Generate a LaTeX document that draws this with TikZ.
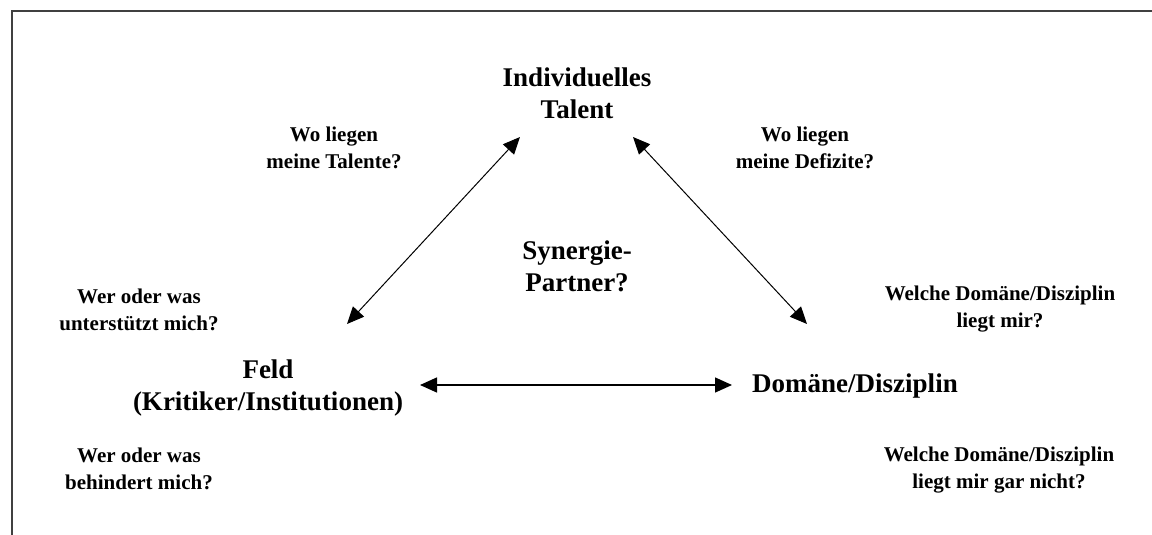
\documentclass[tikz,border=0pt]{standalone}
\usepackage{fontspec}
\setmainfont{Liberation Serif}
\usetikzlibrary{arrows.meta}
\tikzset{
  bigtext/.style={font=\bfseries\fontsize{27}{32}\selectfont, align=center, inner sep=0pt},
  smalltext/.style={font=\bfseries\fontsize{21}{27}\selectfont, align=center, inner sep=0pt},
  link/.style={line width=1pt, {Triangle[length=17pt,width=15pt]}-{Triangle[length=17pt,width=15pt]}},
  hlink/.style={line width=1.4pt, {Triangle[length=17pt,width=15pt]}-{Triangle[length=17pt,width=15pt]}},
  frameline/.style={line width=2pt, draw=black!75}
}
\begin{document}
\begin{tikzpicture}[x=1pt,y=-1pt]
\useasboundingbox (0,0) rectangle (1152,535);
% frame (top and left edges)
\coordinate (fbl) at (12,540);
\coordinate (ftl) at (12,11);
\coordinate (ftr) at (1160,11);
\draw[frameline] (fbl) -- (ftl) -- (ftr);

% main labels
\node[bigtext] (talent) at (577,93) {Individuelles\\Talent};
\node[bigtext] (feld) at (268,388) {Feld\\(Kritiker/Institutionen)};
\node[bigtext] (domaene) at (855,386.5) {Domäne/Disziplin};
\node[bigtext] (synergie) at (577,266) {Synergie-\\Partner?};

% questions
\node[smalltext] (qtalente) at (334,148) {Wo liegen\\meine Talente?};
\node[smalltext] (qdefizite) at (805,148) {Wo liegen\\meine Defizite?};
\node[smalltext] (qunterst) at (139,309.5) {Wer oder was\\unterstützt mich?};
\node[smalltext] (qliegt) at (1000,309.5) {Welche Domäne/Disziplin\\liegt mir?};
\node[smalltext] (qbehind) at (139,468.5) {Wer oder was\\behindert mich?};
\node[smalltext] (qnicht) at (999,470) {Welche Domäne/Disziplin\\liegt mir gar nicht?};

% arrow end points
\coordinate (tl) at (520,137);
\coordinate (tr) at (633,137);
\coordinate (fl) at (347,324);
\coordinate (dr) at (807,324);
\coordinate (fh) at (420,385);
\coordinate (dh) at (732,385);

\draw[link] (tl) -- (fl);
\draw[link] (tr) -- (dr);
\draw[hlink] (fh) -- (dh);
\end{tikzpicture}
\end{document}
